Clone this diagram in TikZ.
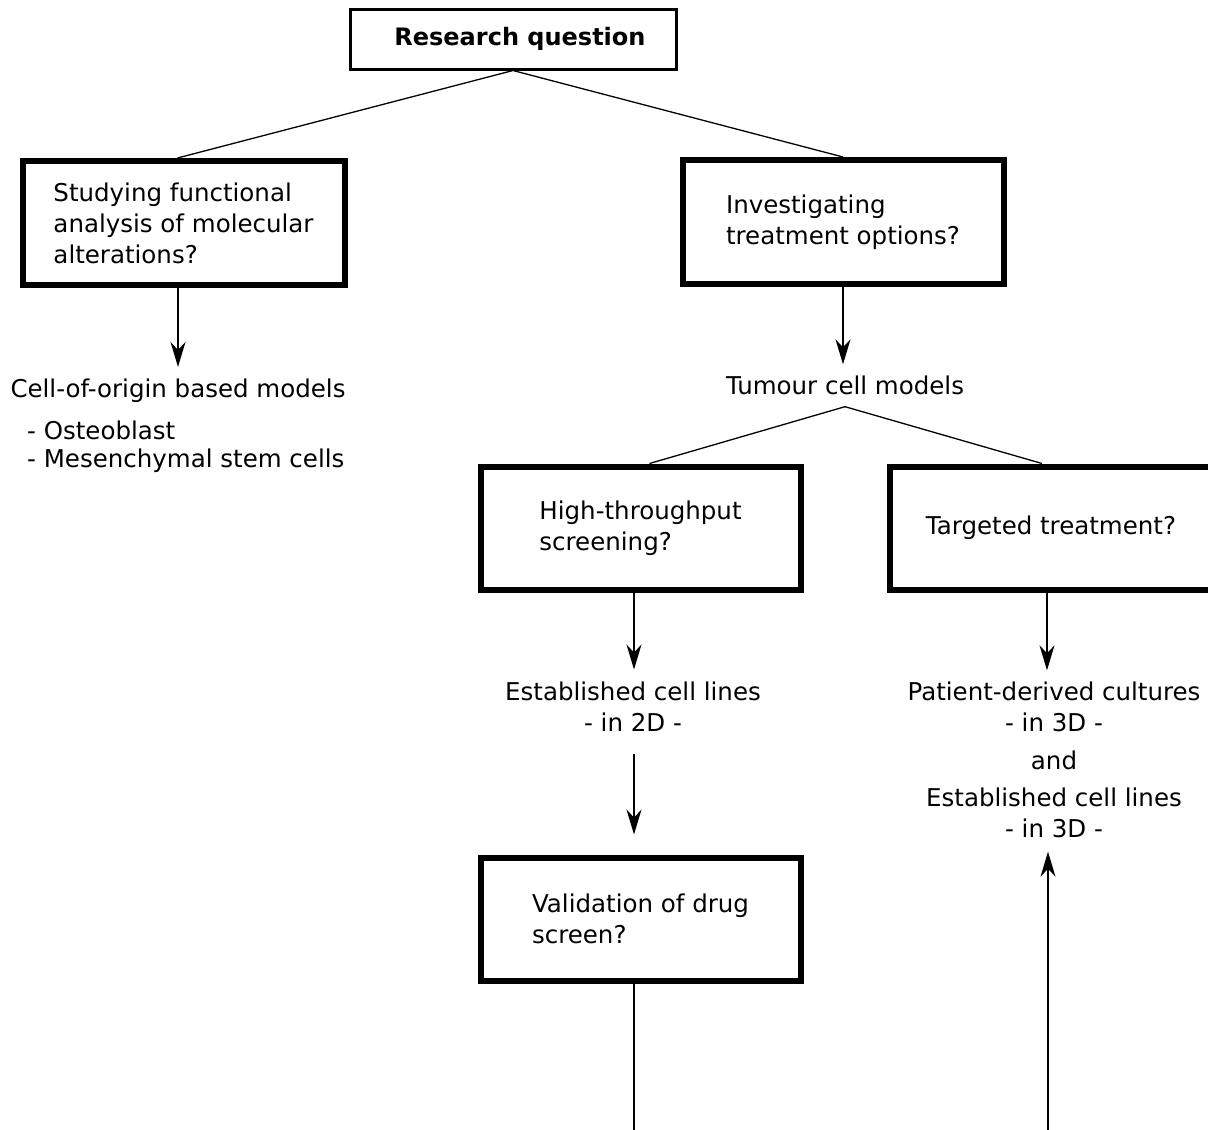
\documentclass[tikz,border=0pt]{standalone}
\usepackage{fontspec}
\setmainfont{DejaVu Sans}
\usetikzlibrary{arrows.meta,calc}
\begin{document}
\begin{tikzpicture}[x=1pt,y=-1pt,
  every node/.style={font=\fontsize{24.5}{31}\selectfont},
  qbox/.style={draw, line width=6pt, align=left, inner sep=0pt},
  conn/.style={line width=1.3pt},
  arr/.style={conn, -{Stealth[length=25pt,width=15pt,inset=8pt]}},
  lbl/.style={align=center, inner sep=0pt}]
\useasboundingbox (0,0) rectangle (1208,1130);
% boxes
\node[draw, line width=3pt, minimum width=326pt, minimum height=60pt,
      font=\bfseries\fontsize{24}{31}\selectfont] (rq) at (513,39) {\hspace*{14pt}Research question};
\node[qbox, minimum width=322pt, minimum height=124pt] (func) at (183.5,223)
  {Studying functional\\analysis of molecular\\alterations?};
\node[qbox, minimum width=321pt, minimum height=124pt] (treat) at (843,222)
  {Investigating\\treatment options?};
\node[qbox, minimum width=320pt, minimum height=123pt] (hts) at (640.5,528)
  {High-throughput\\screening?};
\node[qbox, minimum width=323pt, minimum height=123pt] (targ) at (1051,528)
  {Targeted treatment?};
\node[qbox, minimum width=320pt, minimum height=123pt] (valid) at (640.5,919)
  {Validation of drug\\screen?};
% labels
\node[lbl] (cell) at (178,391) {Cell-of-origin based models};
\node[lbl, anchor=west] (osteo) at (27,430) {- Osteoblast};
\node[lbl, anchor=west] (mesen) at (27,461) {- Mesenchymal stem cells};
\node[lbl] (tcm) at (845,385) {Tumour cell models};
\node[lbl] (est2d) at (633,706.5) {Established cell lines\\- in 2D -};
\node[lbl] (pdc) at (1054,759.5) {Patient-derived cultures\\- in 3D -\\[7pt]and\\[6pt]Established cell lines\\- in 3D -};
% free ends
\coordinate (bl) at (634,1130);
\coordinate (br) at (1048,1130);
\coordinate (al) at (634,700);
\coordinate (ar) at (1047,700);
\coordinate (am) at (843,300);
% connectors
\draw[conn] (rq.south) -- ($(func.north)+(-6,0)$);
\draw[conn] (rq.south) -- (treat.north);
\draw[arr] (func.south -| cell) -- ($(cell.north)+(0,-12)$);
\draw[arr] (treat.south -| am) -- ($(tcm.north -| am)+(0,-11)$);
\draw[conn] ($(tcm.south)+(0,12)$) -- ($(hts.north)+(9,0)$);
\draw[conn] ($(tcm.south)+(0,12)$) -- ($(targ.north)+(-9,0)$);
\draw[arr] (hts.south -| al) -- ($(est2d.north -| al)+(0,-12)$);
\draw[arr] (targ.south -| ar) -- ($(pdc.north -| ar)+(0,-11)$);
\draw[arr] ($(est2d.south -| al)+(0,22)$) -- ($(valid.north -| al)+(0,-20)$);
\draw[conn] (valid.south -| bl) -- (bl);
\draw[arr] (br) -- ($(pdc.south -| br)+(0,14)$);
\end{tikzpicture}
\end{document}
